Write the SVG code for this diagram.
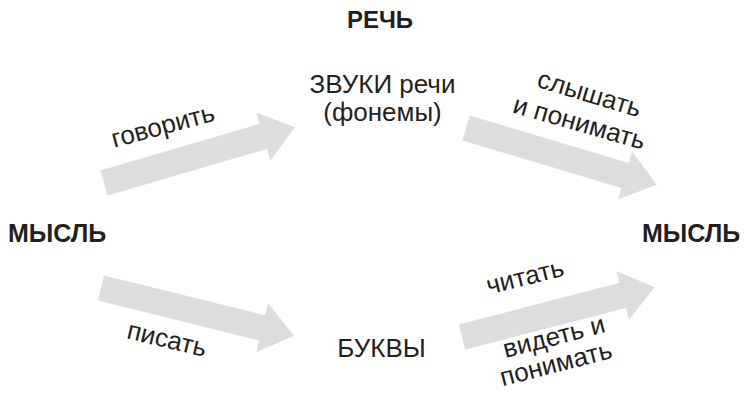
<svg xmlns="http://www.w3.org/2000/svg" width="748" height="396" viewBox="0 0 748 396">
<style>
.arr{fill:#dcddde}
.t{font-family:"Liberation Sans",Arial,sans-serif;fill:#231f20;font-size:26px}
.b{font-weight:bold;font-size:25px}
</style>
<defs>
<polygon id="arrow" points="0,-13 166,-13 166,-25 199,0 166,25 166,13 0,13"/>
</defs>
<rect width="748" height="396" fill="#fff"/>
<g id="connectors">
<use href="#arrow" class="arr" transform="translate(104,183) rotate(-16.3)"/>
<use href="#arrow" class="arr" transform="translate(466,128) rotate(16.6)"/>
<use href="#arrow" class="arr" transform="translate(101,288) rotate(13.9)"/>
<use href="#arrow" class="arr" transform="translate(462,337) rotate(-14.5)"/>
</g>
<g id="rech"><text class="t b" x="380" y="28" text-anchor="middle" style="font-size:24px">РЕЧЬ</text></g>
<g id="zvuki">
<text class="t" x="382.5" y="93" text-anchor="middle">ЗВУКИ речи</text>
<text class="t" x="382.5" y="121" text-anchor="middle">(фонемы)</text>
</g>
<g id="mysl-left"><text class="t b" x="8" y="242">МЫСЛЬ</text></g>
<g id="mysl-right"><text class="t b" x="642" y="242">МЫСЛЬ</text></g>
<g id="bukvy"><text class="t" x="381.5" y="357" text-anchor="middle">БУКВЫ</text></g>
<g id="labels">
<text class="t" text-anchor="middle" transform="translate(165,134) rotate(-15)">говорить</text>
<text class="t" text-anchor="middle" transform="translate(587,102) rotate(16.7)">слышать</text>
<text class="t" text-anchor="middle" transform="translate(577,131) rotate(16)">и понимать</text>
<text class="t" text-anchor="middle" transform="translate(165,347.5) rotate(13.4)">писать</text>
<text class="t" text-anchor="middle" transform="translate(527,285) rotate(-14)">читать</text>
<text class="t" text-anchor="middle" transform="translate(556,345) rotate(-14.5)">видеть и</text>
<text class="t" text-anchor="middle" transform="translate(558,372) rotate(-14.5)">понимать</text>
</g>
</svg>
